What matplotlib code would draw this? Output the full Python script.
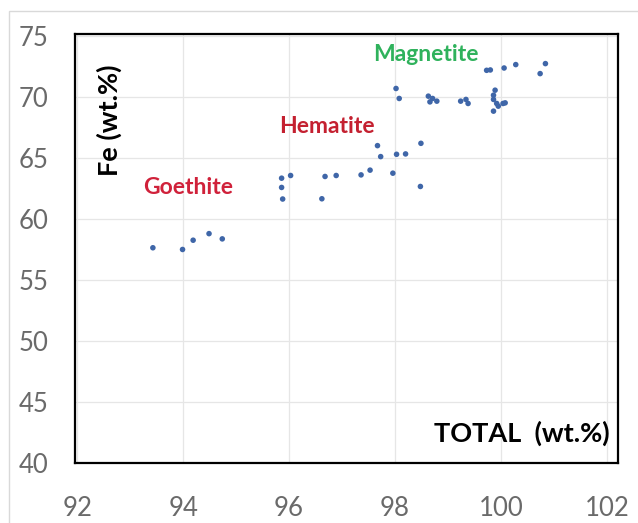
"""
Fe vs TOTAL scatter (iron oxides)
"""

import numpy as np
import matplotlib
matplotlib.use('Agg')
import matplotlib.pyplot as plt
from matplotlib.patches import Rectangle


# data
goethite_total = [93.43, 93.99, 94.19, 94.49, 94.74]
goethite_fe = [57.66, 57.52, 58.28, 58.82, 58.39]

hematite_total = [95.86, 96.03, 95.86, 95.88, 96.62, 96.68, 96.89, 97.36, 97.53,
                  97.67, 97.73, 97.96, 98.03, 98.20, 98.49, 98.48]
hematite_fe = [63.37, 63.59, 62.61, 61.66, 61.68, 63.51, 63.59, 63.64, 64.03,
               66.04, 65.14, 63.78, 65.33, 65.36, 66.23, 62.69]

magnetite_total = [98.02, 98.08, 98.63, 98.71, 98.79, 98.66, 99.24, 99.34, 99.38,
                   99.73, 99.80, 100.06, 100.28, 100.84, 100.74,
                   99.89, 99.86, 99.86, 99.92, 100.04, 99.95, 99.86, 100.08]
magnetite_fe = [70.73, 69.91, 70.10, 69.91, 69.69, 69.63, 69.69, 69.83, 69.50,
                72.22, 72.25, 72.41, 72.69, 72.77, 71.95,
                70.59, 70.18, 69.83, 69.50, 69.50, 69.28, 68.87, 69.55]

x_ticks = [92, 94, 96, 98, 100, 102]
y_ticks = [40, 45, 50, 55, 60, 65, 70, 75]

W, H = 638, 523
fig = plt.figure(figsize=(W / 100, H / 100), dpi=100)
fig.patch.set_facecolor('white')

# light chart-area border (only top and left show in the picture)
fig.add_artist(Rectangle((9 / W, -0.1), 1.2, 1.1 - 11 / H, transform=fig.transFigure,
                         fill=False, edgecolor='#d9d9d9', linewidth=1.0))

ax = fig.add_axes([75 / W, 60 / H, (618 - 75) / W, (463 - 34) / H])

all_x = goethite_total + hematite_total + magnetite_total
all_y = goethite_fe + hematite_fe + magnetite_fe
ax.scatter(all_x, all_y, s=16, color='#3f66a8', edgecolors='none', zorder=3)

ax.set_xlim(91.96, 102.21)
ax.set_ylim(40.0, 75.2)
ax.set_xticks(x_ticks)
ax.set_yticks(y_ticks)
ax.grid(True, color='#e6e6e6', linewidth=0.9, zorder=0)
ax.set_axisbelow(True)

for s in ax.spines.values():
    s.set_color('black')
    s.set_linewidth(1.6)

ax.tick_params(axis='both', length=0, labelsize=18.5, labelcolor='#6a6a6a')
ax.tick_params(axis='y', pad=19)
ax.tick_params(axis='x', pad=24)
for lab in ax.get_xticklabels() + ax.get_yticklabels():
    lab.set_family('Lato')

# axis titles drawn inside the box
ax.text(0.064, 0.80, 'Fe (wt.%)', transform=ax.transAxes, rotation=90,
        ha='center', va='center', fontsize=19.5, fontweight='bold',
        family='Lato', color='black')
ax.text(0.985, 0.07, 'TOTAL  (wt.%)', transform=ax.transAxes,
        ha='right', va='center', fontsize=19.5, fontweight='bold',
        family='Lato', color='black')

# mineral labels
ax.text(94.10, 62.6, 'Goethite', ha='center', va='center', fontsize=16.5,
        fontweight='bold', family='Lato', color='#d0213a')
ax.text(96.72, 67.6, 'Hematite', ha='center', va='center', fontsize=16.5,
        fontweight='bold', family='Lato', color='#c42030')
ax.text(98.58, 73.5, 'Magnetite', ha='center', va='center', fontsize=16.5,
        fontweight='bold', family='Lato', color='#2fb25c')

plt.savefig('out.png', dpi=100)
